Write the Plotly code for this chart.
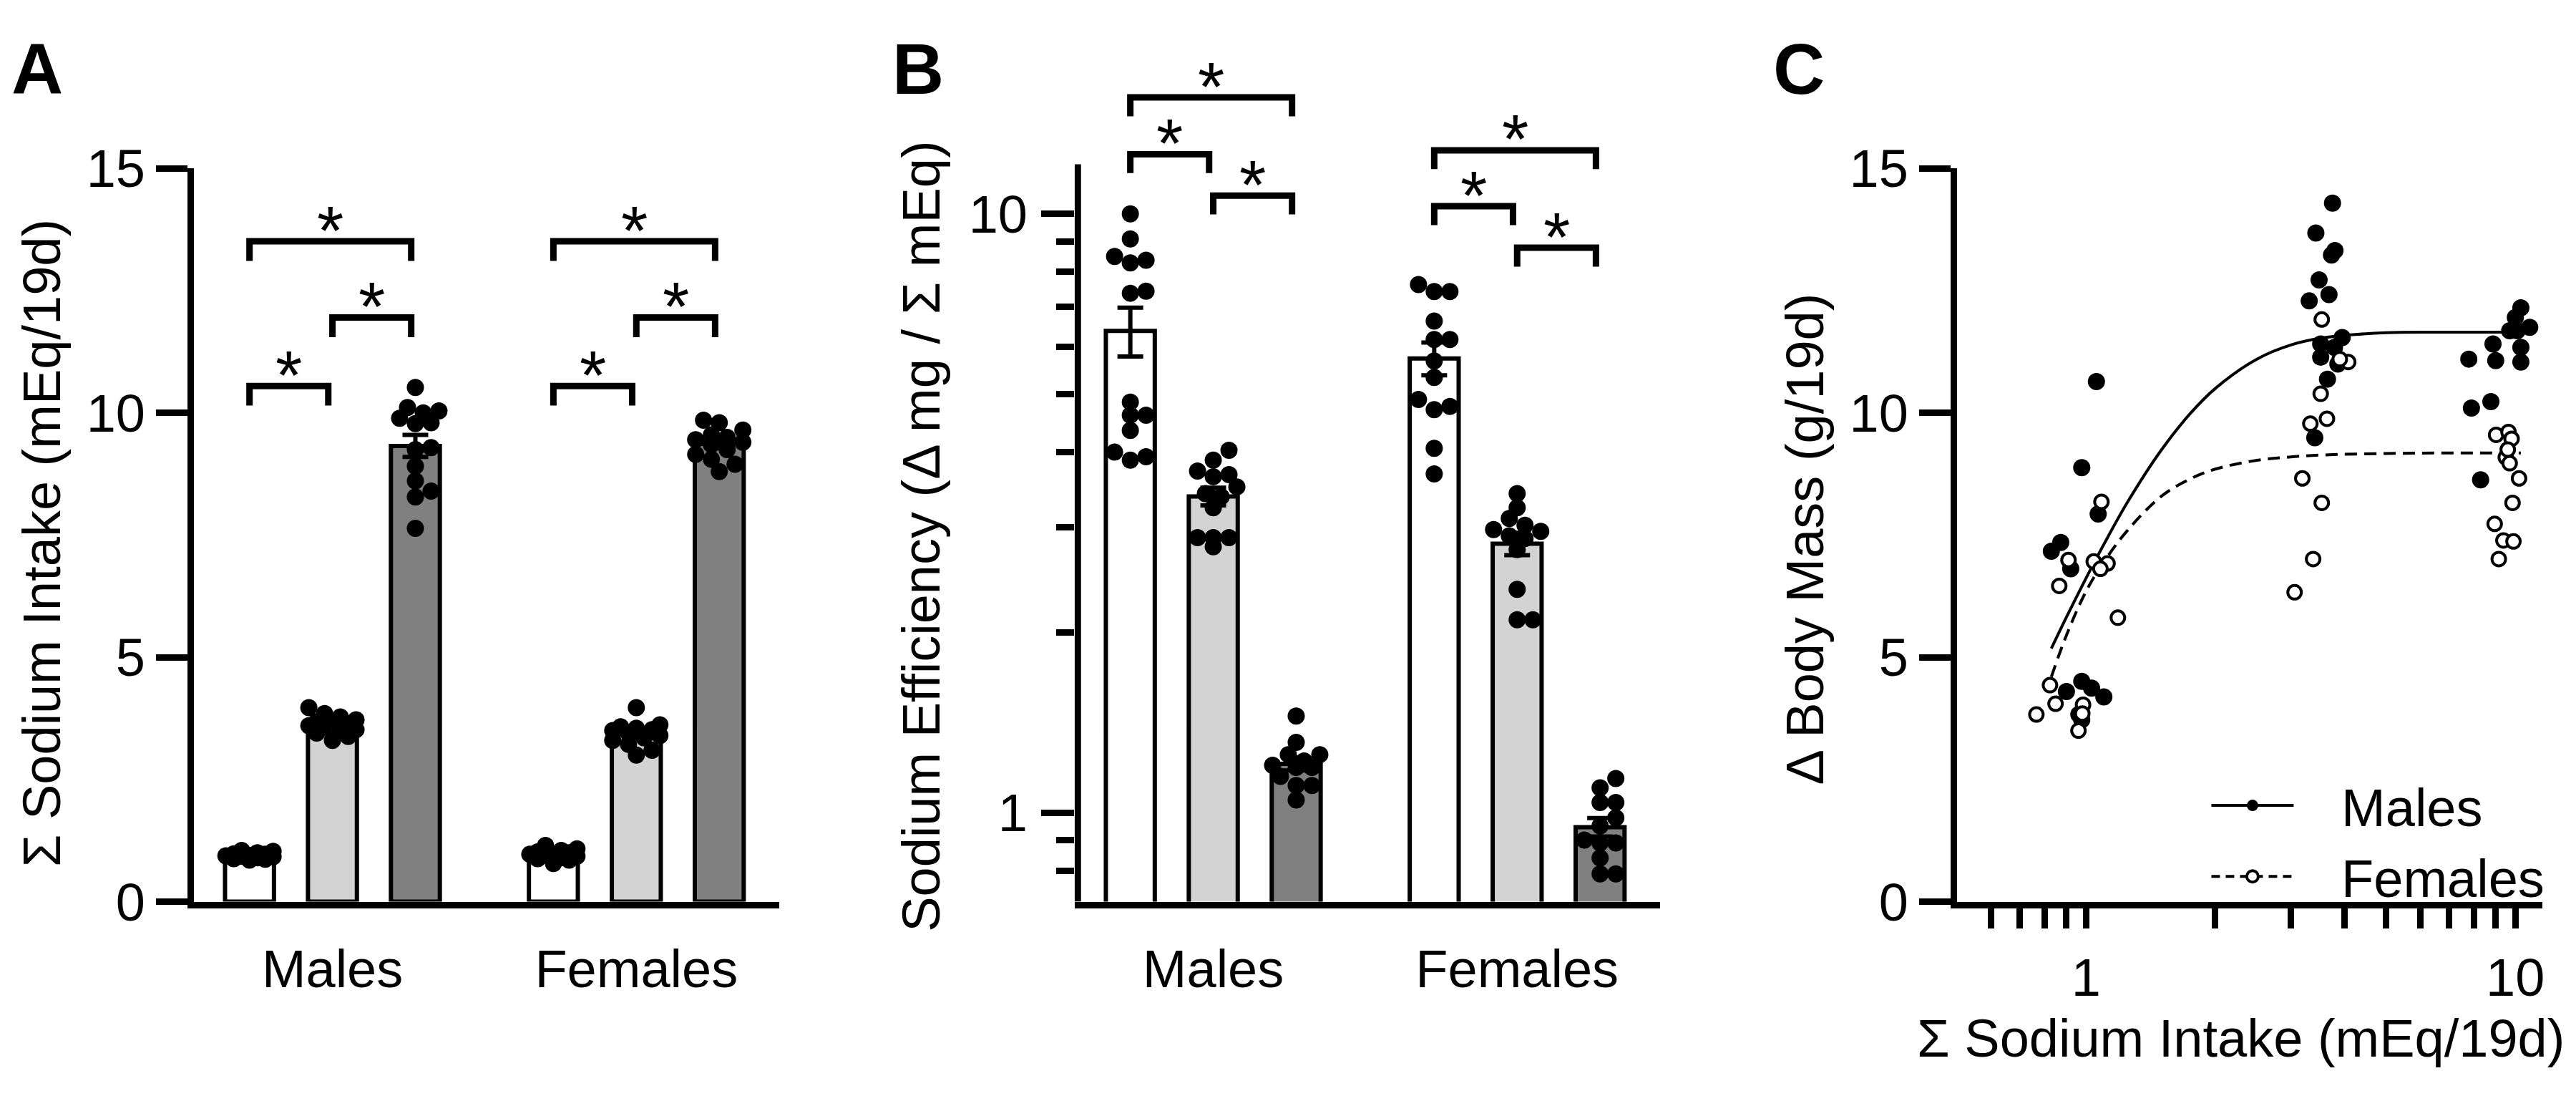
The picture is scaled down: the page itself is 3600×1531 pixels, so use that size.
import numpy as np
import plotly.graph_objects as go

# ---------------------------------------------------------------- data
sexes = ["Males", "Females"]
diets = ["Low Na", "Medium Na", "High Na"]          # bar order: white, light grey, dark grey
bar_colors = ["#ffffff", "#d3d3d3", "#808080"]

# Panel A: cumulative sodium intake (mEq/19d), one value per animal
intake_males_low = [1.05, 1.03, 1.00, 0.98, 0.97, 0.95, 0.94, 0.93, 0.92, 0.90, 0.88, 0.87, 0.85]
intake_males_med = [3.97, 3.85, 3.78, 3.72, 3.68, 3.65, 3.62, 3.60, 3.57, 3.52, 3.48, 3.45, 3.38, 3.30]
intake_males_high = [10.52, 10.11, 10.04, 10.00, 9.89, 9.80, 9.78, 9.29, 9.25, 8.91, 8.61, 8.40, 8.28, 7.64]
intake_females_low = [1.15, 1.08, 1.05, 1.02, 1.00, 0.98, 0.97, 0.95, 0.93, 0.90, 0.88, 0.85, 0.78]
intake_females_med = [3.97, 3.62, 3.58, 3.55, 3.52, 3.50, 3.45, 3.40, 3.35, 3.30, 3.22, 3.10, 3.00]
intake_females_high = [9.85, 9.80, 9.65, 9.55, 9.50, 9.45, 9.40, 9.35, 9.25, 9.15, 9.05, 8.95, 8.80]

# Panel B: sodium efficiency (delta mg / sum mEq), one value per animal
eff_males_low = [10.0, 9.08, 8.49, 8.37, 8.28, 7.43, 7.37, 4.85, 4.61, 4.61, 4.35, 4.00, 3.93, 3.88]
eff_males_med = [4.03, 3.88, 3.72, 3.67, 3.64, 3.50, 3.41, 3.37, 3.23, 2.88, 2.88, 2.88, 2.78]
eff_males_high = [1.45, 1.31, 1.25, 1.25, 1.22, 1.20, 1.19, 1.19, 1.15, 1.11, 1.11, 1.05]
eff_females_low = [7.62, 7.42, 7.42, 6.62, 6.17, 6.17, 5.68, 5.33, 4.90, 4.77, 4.71, 4.06, 3.68]
eff_females_med = [3.41, 3.23, 3.10, 3.02, 2.97, 2.95, 2.90, 2.87, 2.75, 2.36, 2.10, 2.10]
eff_females_high = [1.14, 1.10, 1.04, 1.04, 0.98, 0.95, 0.90, 0.89, 0.89, 0.84, 0.79, 0.79]

# Panel C: body-mass change vs. sodium intake
c_males_intake = [1.057, 0.977, 1.067, 0.83, 0.873, 0.921, 0.90, 0.977, 1.03, 1.10, 0.962, 0.977,
                  3.75, 3.43, 3.73, 3.80, 3.49, 3.68, 3.31, 3.95, 3.52, 3.79, 3.52, 3.86, 3.65, 3.41,
                  10.3, 10.0, 10.8, 9.7, 10.1, 7.79, 8.87, 9.0, 10.3, 10.3, 8.77, 7.9, 8.3]
c_males_mass = [10.64, 8.88, 7.93, 7.17, 7.35, 6.81, 4.30, 4.51, 4.37, 4.19, 3.83, 3.72,
                14.29, 13.68, 13.23, 13.32, 12.72, 12.42, 12.29, 11.54, 11.41, 11.34, 11.14, 11.0, 10.69, 9.49,
                12.15, 11.95, 11.75, 11.68, 11.68, 11.10, 11.41, 11.07, 11.34, 11.04, 10.23, 10.1, 8.63]
c_females_intake = [1.086, 1.042, 1.122, 1.08, 0.91, 0.866, 1.186, 0.824, 0.849, 0.766, 0.984, 0.98, 0.96,
                    3.54, 4.08, 3.90, 3.52, 3.64, 3.33, 3.19, 3.54, 3.38, 3.06,
                    9.02, 9.64, 9.8, 9.5, 9.7, 10.2, 9.85, 8.95, 9.38, 9.9, 9.15, 9.6]
c_females_mass = [8.18, 6.96, 6.92, 6.81, 6.99, 6.46, 5.81, 4.43, 4.05, 3.83, 4.03, 3.85, 3.50,
                  11.91, 11.04, 11.10, 10.39, 9.88, 9.78, 8.66, 8.16, 7.01, 6.33,
                  9.55, 9.61, 9.47, 9.09, 8.97, 8.66, 8.16, 7.73, 7.39, 7.37, 7.01, 9.25]

# fitted curves
fit_intake = [0.83, 0.9, 1.0, 1.1, 1.25, 1.5, 1.75, 2.0, 2.5, 3.0, 3.6, 5.0, 7.0, 10.3]
fit_males = [5.18, 5.82, 6.62, 7.31, 8.18, 9.25, 9.99, 10.5, 11.1, 11.39, 11.54, 11.64, 11.65, 11.65]
fit_females = [4.6, 5.45, 6.35, 6.95, 7.6, 8.3, 8.65, 8.85, 9.03, 9.1, 9.14, 9.17, 9.18, 9.18]

# significance brackets: (bar i, bar j) and bracket heights
comparisons = [(0, 1), (1, 2), (0, 2)]
a_bracket_males = [10.55, 11.95, 13.51]
a_bracket_females = [10.55, 11.95, 13.51]
b_bracket_males = [12.58, 10.73, 15.65]
b_bracket_females = [10.30, 8.78, 12.77]
sig_label = "*"

# ---------------------------------------------------------------- layout constants
W, H = 3600, 1531
FONT = "Liberation Sans, Arial, Helvetica, sans-serif"
FS = 74


def fx(p):
    return p / W


def fy(p):
    return 1 - p / H


GROUP_X = [0.0, 3.664]
BAR_W = 0.59
X_RANGE = [-0.672, 6.388]
X_PX = 116.0                       # px per category unit
A_YPX = (1280 - 197) / 15.0        # px per unit (panel A)
B_YRANGE = [float(np.log10(0.71)), 1.276]
B_YPX = (1280 - 20) / (B_YRANGE[1] - B_YRANGE[0])   # px per decade (panel B)
DOT = 24


def swarm(vals, to_px, diam=DOT, step=11.0, max_off=33.0):
    n = len(vals)
    order = sorted(range(n), key=lambda i: vals[i])
    cands = [0.0]
    k = 1
    while k * step <= max_off + 1e-9:
        cands += [k * step, -k * step]
        k += 1
    thr2 = (0.8 * diam) ** 2
    placed, offs = [], [0.0] * n
    for i in order:
        y = to_px(vals[i])
        chosen = None
        for c in cands:
            if all((c - px) ** 2 + (y - py) ** 2 >= thr2 for px, py in placed):
                chosen = c
                break
        if chosen is None:
            chosen = max(cands, key=lambda c: min((c - px) ** 2 + (y - py) ** 2 for px, py in placed))
        placed.append((chosen, y))
        offs[i] = chosen
    return [o / X_PX for o in offs]


fig = go.Figure()

panels = [
    ("x", "y", [[intake_males_low, intake_males_med, intake_males_high],
                [intake_females_low, intake_females_med, intake_females_high]],
     lambda v: -A_YPX * v),
    ("x2", "y2", [[eff_males_low, eff_males_med, eff_males_high],
                  [eff_females_low, eff_females_med, eff_females_high]],
     lambda v: -B_YPX * np.log10(v)),
]

for xa, ya, groups, to_px in panels:
    stats = []
    for d in range(3):
        xs, means, sems = [], [], []
        for s in range(2):
            v = np.array(groups[s][d], dtype=float)
            xs.append(GROUP_X[s] + d)
            means.append(float(v.mean()))
            sems.append(float(v.std(ddof=1) / np.sqrt(len(v))))
        stats.append((xs, means, sems))
        fig.add_trace(go.Bar(x=xs, y=means, width=BAR_W, name=diets[d], showlegend=False,
                             marker=dict(color=bar_colors[d], line=dict(color="black", width=6)),
                             xaxis=xa, yaxis=ya))
    for s in range(2):
        for d in range(3):
            vals = groups[s][d]
            offs = swarm(vals, to_px)
            fig.add_trace(go.Scatter(x=[GROUP_X[s] + d + o for o in offs], y=vals, mode="markers",
                                     marker=dict(color="black", size=DOT, line=dict(width=0)),
                                     showlegend=False, xaxis=xa, yaxis=ya, name=f"{sexes[s]} {diets[d]}"))
    for d in range(3):
        xs, means, sems = stats[d]
        fig.add_trace(go.Scatter(x=xs, y=means, mode="markers", showlegend=False,
                                 marker=dict(size=1, color="rgba(0,0,0,0)"),
                                 error_y=dict(type="data", array=sems, visible=True, color="black",
                                              thickness=6, width=18),
                                 xaxis=xa, yaxis=ya))

# Panel C
fig.add_trace(go.Scatter(x=fit_intake, y=fit_males, mode="lines", line=dict(color="black", width=4, shape="spline"),
                         showlegend=False, xaxis="x3", yaxis="y3"))
fig.add_trace(go.Scatter(x=fit_intake, y=fit_females, mode="lines",
                         line=dict(color="black", width=4, dash="17px,10px", shape="spline"),
                         showlegend=False, xaxis="x3", yaxis="y3"))
fig.add_trace(go.Scatter(x=c_males_intake, y=c_males_mass, mode="markers",
                         marker=dict(color="black", size=24, line=dict(width=0)),
                         showlegend=False, xaxis="x3", yaxis="y3", name="Males"))
fig.add_trace(go.Scatter(x=c_females_intake, y=c_females_mass, mode="markers",
                         marker=dict(color="white", size=19, line=dict(color="black", width=4)),
                         showlegend=False, xaxis="x3", yaxis="y3", name="Females"))
NB = "\u00a0\u00a0\u00a0"
fig.add_trace(go.Scatter(x=[None], y=[None], mode="lines+markers", name=NB + "Males",
                         line=dict(color="black", width=4),
                         marker=dict(color="black", size=24), xaxis="x3", yaxis="y3"))
fig.add_trace(go.Scatter(x=[None], y=[None], mode="lines+markers", name=NB + "Females",
                         line=dict(color="black", width=4, dash="12px,8px"),
                         marker=dict(color="white", size=19, line=dict(color="black", width=4)),
                         xaxis="x3", yaxis="y3"))

# ---------------------------------------------------------------- shapes & annotations
shapes, annots = [], []
tick_font = dict(family=FONT, size=FS, color="black")
star_font = dict(family=FONT, size=96, color="black")

for s in range(2):
    for k, (i, j) in enumerate(comparisons):
        x1 = GROUP_X[s] + i
        x2 = GROUP_X[s] + j - 0.05
        # panel A
        top = (a_bracket_males if s == 0 else a_bracket_females)[k]
        leg = top - 0.4
        shapes.append(dict(type="path", xref="x", yref="y",
                           path=f"M {x1},{leg} L {x1},{top} L {x2},{top} L {x2},{leg}",
                           line=dict(color="black", width=9)))
        annots.append(dict(x=(x1 + x2) / 2, y=top, xref="x", yref="y", text=sig_label, showarrow=False,
                           yanchor="middle", yshift=16, font=star_font))
        # panel B (log axis)
        topb = (b_bracket_males if s == 0 else b_bracket_females)[k]
        legb = topb * 0.93
        shapes.append(dict(type="path", xref="x2", yref="y2",
                           path=f"M {x1},{legb} L {x1},{topb} L {x2},{topb} L {x2},{legb}",
                           line=dict(color="black", width=9)))
        annots.append(dict(x=(x1 + x2) / 2, y=float(np.log10(topb)), xref="x2", yref="y2", text=sig_label,
                           showarrow=False, yanchor="middle", yshift=16, font=star_font))

# panel B y-axis line (stops below the brackets)
bx = X_RANGE[0] + 4.5 / X_PX
shapes.append(dict(type="line", xref="x2", yref="y2", x0=bx, x1=bx, y0=0.71, y1=12.1,
                   line=dict(color="black", width=9)))

for txt, xp in [("A", 6), ("B", 1238), ("C", 2470)]:
    annots.append(dict(x=fx(xp), y=fy(50), xref="paper", yref="paper", text=f"<b>{txt}</b>", showarrow=False,
                       xanchor="left", yanchor="middle", font=dict(family=FONT, size=100, color="black")))

for txt, xp, yp in [("\u03a3 Sodium Intake (mEq/19d)", 50, 750),
                    ("Sodium Efficiency (\u0394 mg / \u03a3 mEq)", 1281, 740),
                    ("\u0394 Body Mass (g/19d)", 2517, 744)]:
    annots.append(dict(x=fx(xp), y=fy(yp), xref="paper", yref="paper", text=txt, textangle=-90,
                       showarrow=False, xanchor="center", yanchor="middle", font=tick_font))
annots.append(dict(x=fx(3126), y=fy(1482), xref="paper", yref="paper", text="\u03a3 Sodium Intake (mEq/19d)",
                   showarrow=False, xanchor="center", yanchor="middle", font=tick_font))

# ---------------------------------------------------------------- axes
base = dict(showgrid=False, zeroline=False, tickfont=tick_font, color="black", linecolor="black",
            tickcolor="black", fixedrange=True)
dom_y_ac = [fy(1280), fy(197)]
dom_y_b = [fy(1280), fy(20)]

layout = dict(
    width=W, height=H, margin=dict(l=0, r=0, t=0, b=0),
    paper_bgcolor="white", plot_bgcolor="white", barmode="overlay",
    font=dict(family=FONT, size=FS, color="black"),
    shapes=shapes, annotations=annots,
    legend=dict(x=fx(3080), y=fy(1080), xanchor="left", yanchor="top", bgcolor="rgba(0,0,0,0)",
                font=dict(family=FONT, size=FS, color="black"), itemwidth=115, tracegroupgap=0),
    xaxis=dict(base, domain=[fx(263), fx(1082)], range=X_RANGE, anchor="y", showline=True, linewidth=9,
               tickvals=[g + 1 for g in GROUP_X], ticktext=sexes, ticks="", ticklabelstandoff=22),
    yaxis=dict(base, domain=dom_y_ac, range=[0, 15], anchor="x", showline=True, linewidth=9,
               tickvals=[0, 5, 10, 15], ticks="outside", ticklen=44, tickwidth=9, ticklabelstandoff=0),
    xaxis2=dict(base, domain=[fx(1495), fx(2314)], range=X_RANGE, anchor="y2", showline=True, linewidth=9,
                tickvals=[g + 1 for g in GROUP_X], ticktext=sexes, ticks="", ticklabelstandoff=22),
    yaxis2=dict(base, domain=dom_y_b, type="log", range=B_YRANGE, anchor="x2", showline=False,
                tickvals=[1, 10], ticktext=["1", "10"], ticks="outside", ticklen=46, tickwidth=9,
                ticklabelstandoff=4,
                minor=dict(tickvals=[0.8, 0.9, 2, 3, 4, 5, 6, 7, 8, 9], ticks="outside", ticklen=25,
                           tickwidth=9, tickcolor="black", showgrid=False)),
    xaxis3=dict(base, domain=[fx(2729), fx(3548)], type="log", range=[float(np.log10(0.5)), 1.063],
                anchor="y3", showline=True, linewidth=9, tickvals=[1, 10], ticktext=["1", "10"],
                ticks="outside", ticklen=28, tickwidth=9, ticklabelstandoff=6,
                minor=dict(tickvals=[0.6, 0.7, 0.8, 0.9, 2, 3, 4, 5, 6, 7, 8, 9], ticks="outside", ticklen=28,
                           tickwidth=9, tickcolor="black", showgrid=False)),
    yaxis3=dict(base, domain=dom_y_ac, range=[0, 15], anchor="x3", showline=True, linewidth=9,
                tickvals=[0, 5, 10, 15], ticks="outside", ticklen=44, tickwidth=9, ticklabelstandoff=0),
)
fig.update_layout(**layout)
fig.write_html("out.html")
